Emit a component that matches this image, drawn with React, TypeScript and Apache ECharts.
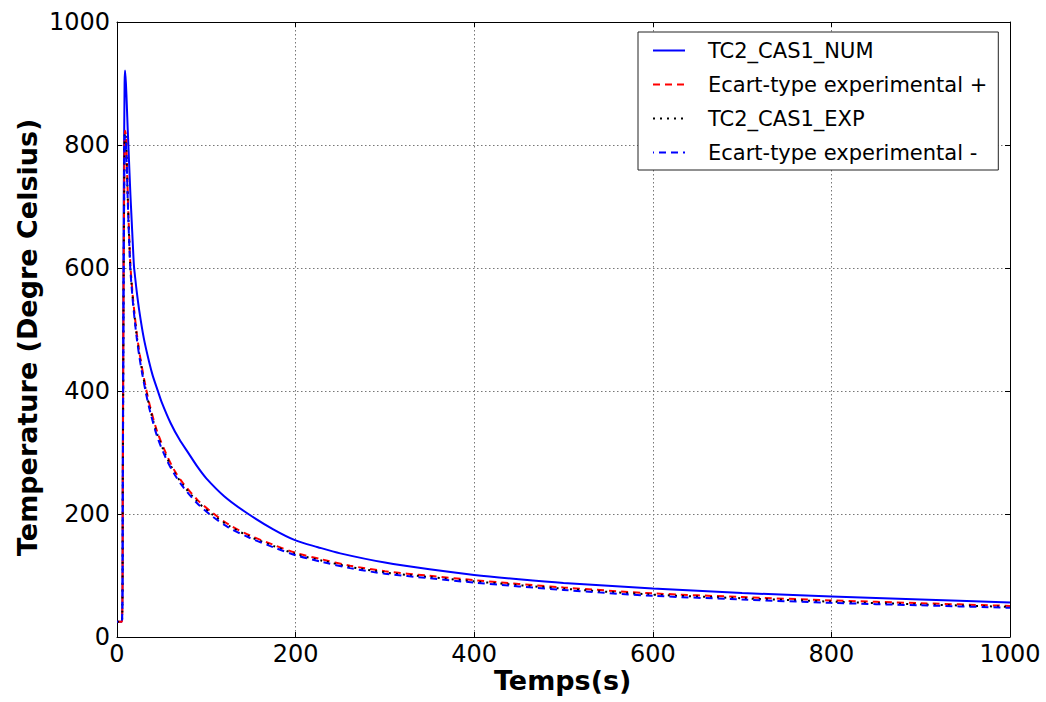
import React, { useEffect, useRef } from "react";
import * as echarts from "echarts";

// Time (s) and values (°C)
const numT = [0, 5.5, 6.5, 7.5, 8.5, 9, 10, 11, 12, 13, 14, 15, 16, 17, 18, 19, 20, 22, 25, 30, 36, 40, 46, 50, 60, 70, 80, 90, 100, 120, 145, 175, 200, 225, 250, 300, 350, 400, 450, 500, 600, 700, 800, 900, 1000];
const numV = [25, 25, 300, 700, 900, 921, 900, 865, 825, 790, 755, 720, 690, 660, 630, 603, 589, 563, 530, 486, 447, 425, 399, 382, 348, 321, 299, 277, 258, 229, 202, 175, 157, 146, 136, 121, 110, 101, 94, 88, 79, 71.5, 66, 61, 56];

const expT = [0, 5.5, 6.5, 7.5, 8.5, 9, 10, 11, 12, 13, 14, 15, 16, 17, 18, 20, 22, 25, 28, 32.5, 37, 45, 55, 65, 74, 90, 106, 125, 149, 175, 200, 230, 261, 300, 350, 400, 500, 600, 700, 800, 900, 1000];
const expV = [25, 25, 250, 600, 800, 820, 812, 770, 717, 673, 634, 600, 580, 562, 545, 517, 491, 460, 434, 400, 371, 330, 294, 266, 247, 220, 200, 181, 163, 148, 135, 124, 114, 105, 97.5, 90.5, 78.5, 69, 63, 57.5, 53, 49];
const plusV = [25, 25, 260, 610, 803, 823, 815, 774, 721, 677, 638, 604, 584, 566, 549, 521, 495, 464, 438, 404, 375, 334, 298, 269, 250, 223, 203, 183, 165, 150, 137, 126, 116, 107, 99.5, 92.5, 80.5, 71, 65, 59.5, 55, 50.5];
const minusV = [25, 25, 240, 590, 795, 815, 807, 765, 712, 668, 629, 596, 576, 558, 541, 513, 487, 456, 430, 396, 367, 326, 290, 263, 244, 217, 197, 178, 161, 146, 133, 122, 112, 103, 95.5, 88.5, 76.5, 67, 61, 55.5, 51.5, 47.5];

const seriesNames = ["TC2_CAS1_NUM", "Ecart-type experimental +", "TC2_CAS1_EXP", "Ecart-type experimental -"];
const xTitle = "Temps(s)";
const yTitle = "Temperature (Degre Celsius)";

const FONT = "DejaVu Sans";

const zip = (t: number[], v: number[]) => t.map((x, i) => [x, v[i]]);

export default function App() {
  const ref = useRef<HTMLDivElement>(null);
  useEffect(() => {
    if (!ref.current) return;
    const chart = echarts.init(ref.current, undefined, { renderer: "svg" });
    const gridL = 117, gridT = 22, gridW = 893, gridH = 615;
    const baseAxis = {
      type: "value" as const,
      min: 0,
      max: 1000,
      interval: 200,
    };
    const fmt = (v: number) => String(v);
    const lineCommon = {
      type: "line" as const,
      showSymbol: false,
      symbol: "none",
      smooth: 0.3,
    };
    chart.setOption({
      animation: false,
      backgroundColor: "#fff",
      grid: { left: gridL, top: gridT, width: gridW, height: gridH, containLabel: false },
      xAxis: [
        {
          ...baseAxis,
          position: "bottom",
          axisLine: { show: true, onZero: false, lineStyle: { color: "#000", width: 1 } },
          axisTick: { show: true, inside: true, length: 5, lineStyle: { color: "#000" } },
          axisLabel: { show: true, fontSize: 24, color: "#000", fontFamily: FONT, margin: 5, showMinLabel: true, showMaxLabel: true, formatter: fmt },
          splitLine: { show: true, lineStyle: { color: "#777", width: 1, type: [1.5, 2.5] } },
        },
        {
          ...baseAxis,
          position: "top",
          axisLine: { show: true, onZero: false, lineStyle: { color: "#000", width: 1 } },
          axisTick: { show: true, inside: true, length: 5, lineStyle: { color: "#000" } },
          axisLabel: { show: false },
          splitLine: { show: false },
        },
      ],
      yAxis: [
        {
          ...baseAxis,
          position: "left",
          axisLine: { show: true, onZero: false, lineStyle: { color: "#000", width: 1 } },
          axisTick: { show: true, inside: true, length: 5, lineStyle: { color: "#000" } },
          axisLabel: { show: true, fontSize: 24, color: "#000", fontFamily: FONT, margin: 7, showMinLabel: true, showMaxLabel: true, formatter: fmt },
          splitLine: { show: true, lineStyle: { color: "#777", width: 1, type: [1.5, 2.5] } },
        },
        {
          ...baseAxis,
          position: "right",
          axisLine: { show: true, onZero: false, lineStyle: { color: "#000", width: 1 } },
          axisTick: { show: true, inside: true, length: 5, lineStyle: { color: "#000" } },
          axisLabel: { show: false },
          splitLine: { show: false },
        },
      ],
      legend: {
        orient: "vertical",
        left: 638,
        top: 32,
        padding: [8, 11, 7, 14],
        itemGap: 13,
        itemWidth: 32,
        itemHeight: 14,
        itemStyle: { opacity: 0 },
        borderColor: "#222",
        borderWidth: 1,
        borderRadius: 0,
        backgroundColor: "#fff",
        textStyle: { fontSize: 21, fontFamily: FONT, color: "#000", padding: [0, 0, 0, 18] },
        data: seriesNames,
      },
      graphic: [
        {
          type: "text",
          left: 494,
          top: 667,
          style: { text: xTitle, font: `bold 27px '${FONT}'`, fill: "#000" },
        },
        {
          type: "text",
          x: 14,
          y: 556,
          rotation: Math.PI / 2,
          style: { text: yTitle, font: `bold 27px '${FONT}'`, fill: "#000", textAlign: "left", textVerticalAlign: "top" },
        },
      ],
      series: [
        {
          ...lineCommon,
          name: seriesNames[0],
          data: zip(numT, numV),
          lineStyle: { color: "#0000ff", width: 2, type: "solid" },
          itemStyle: { color: "#0000ff" },
        },
        {
          ...lineCommon,
          name: seriesNames[1],
          data: zip(expT, plusV),
          lineStyle: { color: "#ff0000", width: 2, type: [7, 5] },
          itemStyle: { color: "#ff0000" },
        },
        {
          ...lineCommon,
          name: seriesNames[2],
          data: zip(expT, expV),
          lineStyle: { color: "#000000", width: 2, type: [2, 5] },
          itemStyle: { color: "#000000" },
        },
        {
          ...lineCommon,
          name: seriesNames[3],
          data: zip(expT, minusV),
          lineStyle: { color: "#0000ff", width: 2, type: [7, 5], dashOffset: 6 },
          itemStyle: { color: "#0000ff" },
        },
      ],
    });
    return () => chart.dispose();
  }, []);
  return (
    <div
      ref={ref}
      style={{ position: "absolute", left: 0, top: 0, width: 1046, height: 702, background: "#fff" }}
    />
  );
}
